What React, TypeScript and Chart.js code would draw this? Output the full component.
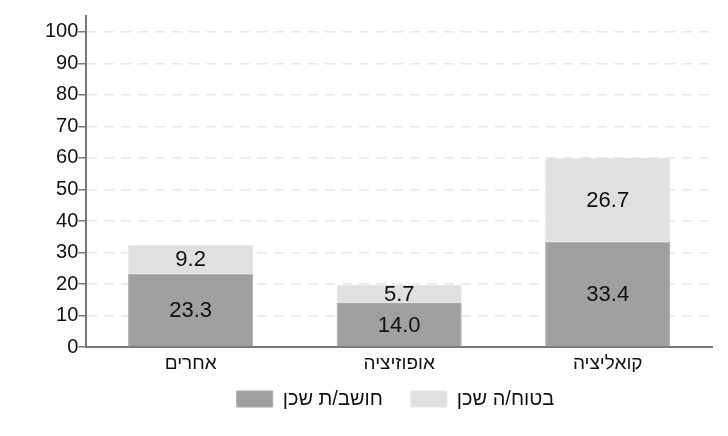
import { useEffect, useRef } from "react";
import { Chart, registerables } from "chart.js";

Chart.register(...registerables);

const categories = ["אחרים", "אופוזיציה", "קואליציה"];
const thinkYes = [23.3, 14.0, 33.4];
const sureYes = [9.2, 5.7, 26.7];
const seriesNames = ["חושב/ת שכן", "בטוח/ה שכן"];
const yTicks = [0, 10, 20, 30, 40, 50, 60, 70, 80, 90, 100];

const FONT = "'Liberation Sans', Arial, sans-serif";

// ציור הערכים בתוך העמודות
const barLabels = {
  id: "barLabels",
  afterDatasetsDraw(chart: any) {
    const ctx = chart.ctx;
    ctx.save();
    ctx.font = `22px ${FONT}`;
    ctx.fillStyle = "#111";
    ctx.textAlign = "center";
    ctx.textBaseline = "middle";
    chart.data.datasets.forEach((ds: any, i: number) => {
      const meta = chart.getDatasetMeta(i);
      meta.data.forEach((bar: any, j: number) => {
        const y = (bar.y + bar.base) / 2;
        ctx.fillText(ds.data[j].toFixed(1), bar.x, y + 1);
      });
    });
    ctx.restore();
  },
};

// להעלות את המקרא קרוב יותר לציר ולמרכז אותו מתחת לשטח הגרף
const legendShift = {
  id: "legendShift",
  afterLayout(chart: any) {
    const lg = chart.legend;
    if (!lg) return;
    lg.top -= 11;
    lg.bottom -= 11;
    lg.left += 17;
    lg.right += 17;
  },
};

export default function App() {
  const canvasRef = useRef<HTMLCanvasElement>(null);
  const chartRef = useRef<Chart | null>(null);

  useEffect(() => {
    document.body.style.margin = "0";
    if (!canvasRef.current) return;
    if (chartRef.current) chartRef.current.destroy();

    chartRef.current = new Chart(canvasRef.current, {
      type: "bar",
      data: {
        labels: categories,
        datasets: [
          {
            label: seriesNames[0],
            data: thinkYes,
            backgroundColor: "#a0a0a0",
            borderColor: "#a8a8a8",
            borderWidth: 1,
            categoryPercentage: 0.6,
            barPercentage: 1,
          },
          {
            label: seriesNames[1],
            data: sureYes,
            backgroundColor: "#e0e0e0",
            borderColor: "#e6e6e6",
            borderWidth: 1,
            categoryPercentage: 0.6,
            barPercentage: 1,
          },
        ],
      },
      options: {
        animation: false,
        responsive: true,
        maintainAspectRatio: false,
        layout: { padding: { top: 16, right: 16, left: 45, bottom: 6 } },
        plugins: {
          tooltip: { enabled: false },
          legend: {
            position: "bottom",
            labels: {
              font: { family: FONT, size: 20 },
              color: "#111",
              boxWidth: 36,
              boxHeight: 16,
              padding: 28,
            },
          },
        },
        scales: {
          x: {
            stacked: true,
            grid: { display: false },
            border: { color: "#777", width: 2 },
            ticks: { font: { family: FONT, size: 19 }, color: "#111", padding: -3 },
          },
          y: {
            stacked: true,
            min: 0,
            max: 105,
            afterBuildTicks: (scale: any) => {
              scale.ticks = yTicks.map((v) => ({ value: v }));
            },
            ticks: { font: { family: FONT, size: 20 }, color: "#111", padding: 0 },
            grid: {
              color: (c: any) => (c.tick && c.tick.value === 0 ? "rgba(0,0,0,0)" : "#e8e8e8"),
              tickColor: "#777",
              tickLength: 8,
              tickBorderDash: [],
              lineWidth: 1.5,
            },
            border: { color: "#777", width: 2, dash: [10, 7] },
          },
        },
      },
      plugins: [barLabels, legendShift],
    });

    return () => {
      if (chartRef.current) chartRef.current.destroy();
    };
  }, []);

  return (
    <div style={{ width: 728, height: 436, position: "relative" }}>
      <canvas ref={canvasRef} />
    </div>
  );
}
